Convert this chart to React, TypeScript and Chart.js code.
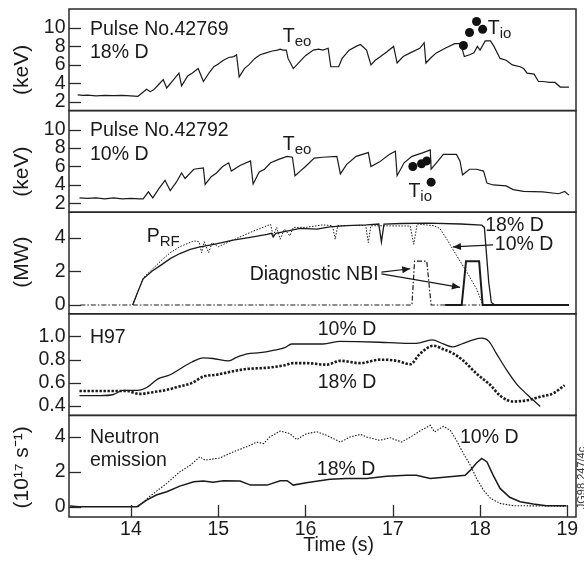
import React, { useEffect, useRef } from 'react';
import { Chart, registerables } from 'chart.js';

Chart.register(...registerables);

const FONT = '"Liberation Sans", Arial, Helvetica, sans-serif';
const INK = '#1a1a1a';

// ---- tick labels ----
const timeTicks = [14, 15, 16, 17, 18, 19];
const keVTicks = [2, 4, 6, 8, 10];
const mwTicks = [0, 2, 4];
const h97Ticks = [0.4, 0.6, 0.8, 1.0];
const neutronTicks = [0, 2, 4];

// ---- Panel 1: Pulse 42769 (18% D) Te0 ----
const teo18T = [13.39, 13.45, 13.5, 13.6, 13.7, 13.8, 13.9, 14.0, 14.08, 14.12, 14.18, 14.22, 14.26, 14.32, 14.37, 14.41, 14.47, 14.55, 14.58, 14.65, 14.7, 14.77, 14.83, 14.9, 14.95, 15.0, 15.06, 15.12, 15.18, 15.21, 15.24, 15.3, 15.35, 15.42, 15.48, 15.55, 15.62, 15.68, 15.71, 15.74, 15.78, 15.8, 15.86, 15.9, 15.94, 16.0, 16.09, 16.15, 16.2, 16.26, 16.29, 16.38, 16.42, 16.5, 16.58, 16.63, 16.7, 16.75, 16.8, 16.86, 16.93, 17.01, 17.05, 17.12, 17.2, 17.31, 17.36, 17.38, 17.44, 17.5, 17.6, 17.71, 17.78, 17.82, 17.88, 17.93, 17.97, 18.0, 18.06, 18.12, 18.16, 18.23, 18.3, 18.37, 18.46, 18.5, 18.54, 18.62, 18.67, 18.72, 18.8, 18.86, 18.92, 19.02];
const teo18V = [2.76, 2.7, 2.72, 2.65, 2.7, 2.68, 2.7, 2.65, 2.6, 2.9, 3.37, 3.1, 3.3, 3.9, 4.4, 3.5, 4.2, 5.1, 3.73, 4.8, 5.1, 5.6, 4.2, 5.2, 5.8, 6.1, 6.5, 6.8, 6.9, 7.1, 4.7, 5.6, 6.0, 6.7, 7.1, 7.3, 7.5, 7.6, 7.7, 7.6, 7.6, 6.7, 5.6, 6.0, 6.4, 7.0, 7.6, 7.7, 7.6, 7.8, 5.8, 5.8, 6.7, 7.6, 8.0, 8.2, 7.6, 6.0, 6.5, 6.9, 7.4, 8.0, 6.2, 6.9, 7.3, 7.8, 8.4, 6.2, 6.8, 7.3, 7.8, 8.3, 8.3, 6.9, 7.1, 7.3, 8.0, 7.6, 8.6, 8.6, 8.0, 6.7, 6.5, 6.0, 5.8, 5.6, 5.1, 5.0, 4.2, 4.2, 4.1, 4.1, 3.6, 3.6];
const tio18T = [17.81, 17.88, 17.96, 18.03];
const tio18V = [8.1, 9.5, 10.7, 9.85];

// ---- Panel 2: Pulse 42792 (10% D) Te0 ----
const teo10T = [13.41, 13.5, 13.6, 13.7, 13.8, 13.9, 14.0, 14.1, 14.14, 14.2, 14.25, 14.32, 14.39, 14.45, 14.52, 14.58, 14.62, 14.72, 14.83, 14.85, 14.92, 14.98, 15.05, 15.12, 15.15, 15.25, 15.37, 15.4, 15.47, 15.53, 15.6, 15.7, 15.79, 15.85, 15.88, 15.94, 16.0, 16.1, 16.2, 16.36, 16.4, 16.47, 16.58, 16.72, 16.75, 16.85, 16.96, 17.03, 17.05, 17.13, 17.22, 17.35, 17.43, 17.44, 17.51, 17.58, 17.73, 17.77, 17.8, 17.88, 17.96, 18.04, 18.08, 18.15, 18.3, 18.38, 18.5, 18.72, 18.9, 18.97, 19.02];
const teo10V = [2.6, 2.55, 2.6, 2.5, 2.6, 2.5, 2.55, 2.5, 2.5, 3.26, 2.6, 3.6, 4.5, 3.4, 4.3, 5.3, 4.7, 5.7, 5.85, 4.05, 4.9, 5.3, 6.0, 6.4, 5.5, 6.1, 6.6, 4.1, 5.4, 5.7, 6.4, 6.8, 7.1, 7.0, 5.0, 5.5, 6.0, 6.9, 7.0, 7.1, 5.2, 6.2, 7.1, 7.5, 6.0, 6.5, 7.3, 7.65, 5.0, 6.4, 7.1, 7.5, 7.8, 5.7, 6.5, 7.3, 7.3, 6.6, 5.1, 5.7, 5.7, 5.5, 4.2, 4.0, 3.9, 3.5, 3.3, 3.25, 3.05, 3.3, 2.9];
const tio10T = [17.23, 17.33, 17.39, 17.44];
const tio10V = [6.0, 6.3, 6.6, 4.3];

// ---- Panel 3: RF power and diagnostic NBI (MW) ----
const prf18T = [14.02, 14.08, 14.14, 14.24, 14.34, 14.45, 14.56, 14.68, 14.79, 14.95, 15.17, 15.35, 15.56, 15.61, 15.63, 15.66, 15.94, 16.13, 16.28, 16.47, 16.7, 16.84, 16.87, 16.9, 17.1, 17.4, 17.78, 18.02, 18.05, 18.07, 18.1, 18.13, 18.17, 19.02];
const prf18V = [0, 0.8, 1.55, 2.0, 2.35, 2.75, 3.05, 3.3, 3.45, 3.6, 3.84, 4.0, 4.18, 4.25, 4.03, 4.25, 4.54, 4.5, 4.63, 4.7, 4.75, 4.8, 3.74, 4.8, 4.83, 4.85, 4.8, 4.73, 4.6, 3.3, 1.35, 0.15, 0, 0];
const prf10T = [14.02, 14.08, 14.14, 14.24, 14.34, 14.45, 14.56, 14.72, 14.78, 14.81, 14.84, 14.89, 14.93, 15.0, 15.17, 15.38, 15.6, 15.63, 15.67, 15.71, 15.76, 15.82, 15.86, 16.0, 16.2, 16.31, 16.34, 16.37, 16.69, 16.72, 16.75, 17.2, 17.24, 17.28, 17.47, 17.54, 17.62, 17.73, 17.85, 17.96, 18.03, 18.05];
const prf10V = [0, 0.8, 1.6, 2.1, 2.6, 3.1, 3.45, 3.8, 3.75, 3.1, 3.75, 3.1, 3.7, 3.45, 3.85, 4.33, 4.78, 4.1, 4.6, 3.9, 4.5, 4.1, 4.6, 4.6, 4.75, 4.7, 3.9, 4.7, 4.72, 3.7, 4.7, 4.68, 3.6, 4.8, 4.7, 4.54, 3.9, 2.95, 1.95, 0.96, 0.05, 0];
const nbi10T = [13.42, 17.22, 17.25, 17.39, 17.44, 19.02];
const nbi10V = [0, 0, 2.6, 2.6, 0, 0];
const nbi18T = [17.6, 17.79, 17.84, 17.99, 18.03, 19.02];
const nbi18V = [0, 0, 2.6, 2.6, 0, 0];

// ---- Panel 4: H97 ----
const h97_10T = [13.41, 13.65, 13.8, 13.91, 14.08, 14.18, 14.31, 14.45, 14.56, 14.7, 14.83, 14.94, 15.12, 15.21, 15.33, 15.48, 15.63, 15.77, 15.84, 16.01, 16.2, 16.4, 16.59, 16.85, 17.08, 17.27, 17.45, 17.58, 17.69, 17.79, 17.92, 18.02, 18.1, 18.19, 18.31, 18.42, 18.54, 18.69];
const h97_10V = [0.49, 0.49, 0.5, 0.535, 0.535, 0.56, 0.635, 0.67, 0.72, 0.78, 0.815, 0.81, 0.79, 0.82, 0.85, 0.86, 0.88, 0.905, 0.935, 0.935, 0.935, 0.957, 0.955, 0.95, 0.943, 0.94, 0.97, 0.935, 0.91, 0.935, 0.97, 0.985, 0.96, 0.85, 0.705, 0.59, 0.5, 0.397];
const h97_18T = [13.41, 13.8, 13.95, 14.1, 14.25, 14.41, 14.56, 14.7, 14.83, 14.98, 15.17, 15.33, 15.56, 15.75, 15.86, 16.01, 16.24, 16.4, 16.63, 16.85, 17.05, 17.2, 17.31, 17.47, 17.58, 17.69, 17.81, 17.96, 18.12, 18.23, 18.38, 18.54, 18.69, 18.84, 18.97];
const h97_18V = [0.53, 0.53, 0.53, 0.505, 0.52, 0.54, 0.57, 0.6, 0.655, 0.67, 0.7, 0.72, 0.73, 0.75, 0.77, 0.77, 0.757, 0.79, 0.77, 0.8, 0.79, 0.76, 0.85, 0.92, 0.89, 0.855, 0.79, 0.68, 0.58, 0.49, 0.44, 0.45, 0.48, 0.51, 0.58];

// ---- Panel 5: neutron emission (1e17 /s) ----
const neu18T = [13.3, 13.4, 14.07, 14.18, 14.29, 14.41, 14.56, 14.72, 14.83, 14.94, 15.06, 15.25, 15.37, 15.56, 15.71, 15.79, 15.86, 16.01, 16.28, 16.47, 16.7, 16.93, 17.16, 17.27, 17.43, 17.62, 17.83, 17.89, 17.96, 18.02, 18.08, 18.15, 18.23, 18.34, 18.46, 18.61, 18.76, 18.99];
const neu18V = [0.04, 0, 0, 0.38, 0.67, 0.86, 1.18, 1.43, 1.47, 1.4, 1.49, 1.47, 1.24, 1.24, 1.49, 1.49, 1.24, 1.37, 1.57, 1.62, 1.62, 1.75, 1.81, 1.81, 1.62, 1.71, 1.81, 2.1, 2.51, 2.77, 2.57, 1.81, 1.05, 0.54, 0.29, 0.15, 0.06, 0.06];
const neu10T = [14.08, 14.21, 14.41, 14.56, 14.68, 14.79, 14.85, 15.02, 15.17, 15.37, 15.44, 15.52, 15.59, 15.71, 15.82, 15.9, 16.01, 16.13, 16.24, 16.4, 16.51, 16.63, 16.7, 16.85, 16.97, 17.1, 17.22, 17.31, 17.43, 17.48, 17.58, 17.66, 17.73, 17.81, 17.89, 17.96, 18.04, 18.12, 18.23, 18.38, 18.99];
const neu10V = [0, 0.57, 1.34, 2.0, 2.38, 2.86, 2.67, 2.8, 3.14, 3.53, 3.71, 3.62, 4.0, 4.34, 4.2, 3.85, 4.19, 4.3, 4.1, 3.71, 4.0, 4.15, 4.0, 3.81, 3.96, 3.71, 4.05, 4.34, 4.67, 4.29, 4.61, 4.38, 3.81, 3.05, 2.38, 1.62, 0.95, 0.48, 0.19, 0.06, 0.03];

// ---- annotations (data coordinates of each panel) ----
const textLabels = [
  { axis: 'te1', x: 13.53, y: 10.0, text: 'Pulse No.42769' },
  { axis: 'te1', x: 13.53, y: 7.45, text: '18% D' },
  { axis: 'te1', x: 15.74, y: 9.24, text: 'T', sub: 'eo' },
  { axis: 'te1', x: 18.09, y: 10.05, text: 'T', sub: 'io' },
  { axis: 'te2', x: 13.53, y: 10.05, text: 'Pulse No.42792' },
  { axis: 'te2', x: 13.53, y: 7.45, text: '10% D' },
  { axis: 'te2', x: 15.74, y: 8.53, text: 'T', sub: 'eo' },
  { axis: 'te2', x: 17.18, y: 3.5, text: 'T', sub: 'io' },
  { axis: 'mw', x: 14.18, y: 4.14, text: 'P', sub: 'RF' },
  { axis: 'mw', x: 15.36, y: 1.87, text: 'Diagnostic NBI' },
  { axis: 'mw', x: 18.06, y: 4.8, text: '18% D' },
  { axis: 'mw', x: 18.17, y: 3.66, text: '10% D' },
  { axis: 'h97', x: 13.53, y: 1.006, text: 'H97' },
  { axis: 'h97', x: 16.14, y: 1.075, text: '10% D' },
  { axis: 'h97', x: 16.14, y: 0.62, text: '18% D' },
  { axis: 'neu', x: 13.53, y: 4.04, text: 'Neutron' },
  { axis: 'neu', x: 13.53, y: 2.73, text: 'emission' },
  { axis: 'neu', x: 17.77, y: 4.04, text: '10% D' },
  { axis: 'neu', x: 16.13, y: 2.21, text: '18% D' },
];
const arrowLines = [
  { axis: 'mw', x1: 16.87, y1: 1.95, x2: 17.2, y2: 2.15 },
  { axis: 'mw', x1: 16.87, y1: 1.85, x2: 17.77, y2: 1.05 },
  { axis: 'mw', x1: 18.15, y1: 3.56, x2: 17.69, y2: 3.44 },
];
const axisTitles = [
  { axis: 'te1', y: 5.45, text: '(keV)' },
  { axis: 'te2', y: 5.45, text: '(keV)' },
  { axis: 'mw', y: 2.54, text: '(MW)' },
  { axis: 'neu', y: 2.26, text: '(10¹⁷ s⁻¹)' },
];
const xTitle = { x: 16.38, text: 'Time (s)' };
const panelIds = ['te1', 'te2', 'mw', 'h97', 'neu'];

const zip = (t: number[], v: number[]) => t.map((x, i) => ({ x, y: v[i] }));

const yScale = (ticksArr: number[], min: number, max: number, weight: number, decimals: number) => ({
  type: 'linear',
  position: 'left',
  stack: 'panels',
  stackWeight: 1,
  weight,
  min,
  max,
  grid: { display: false, drawTicks: false },
  border: { display: false },
  ticks: {
    padding: 3.5,
    autoSkip: false,
    color: INK,
    font: { family: FONT, size: 19.5 },
    callback: (v: any) => (decimals ? Number(v).toFixed(decimals) : String(v)),
  },
  afterBuildTicks: (s: any) => {
    s.ticks = ticksArr.map((value) => ({ value }));
  },
  afterFit: (s: any) => {
    s.width = 69;
    s.paddingTop = 0;
    s.paddingBottom = 0;
  },
});

const lineDs = (label: string, data: any[], axis: string, extra: any = {}) => ({
  label,
  data,
  yAxisID: axis,
  xAxisID: 'x',
  borderColor: INK,
  borderWidth: 1.2,
  pointRadius: 0,
  tension: 0,
  fill: false,
  ...extra,
});

const dotDs = (label: string, data: any[], axis: string) => ({
  label,
  data,
  yAxisID: axis,
  xAxisID: 'x',
  showLine: false,
  pointRadius: 4.5,
  pointBackgroundColor: '#111',
  pointBorderWidth: 0,
  borderColor: '#111',
});

const annotationPlugin = {
  id: 'panelDecor',
  afterDatasetsDraw(chart: any) {
    const ctx = chart.ctx;
    const ca = chart.chartArea;
    const xs = chart.scales.x;
    ctx.save();
    // panel frames
    ctx.strokeStyle = '#2b2b2b';
    ctx.lineWidth = 1.5;
    panelIds.forEach((id) => {
      const s = chart.scales[id];
      ctx.strokeRect(ca.left, s.top, ca.right - ca.left, s.bottom - s.top);
    });
    // inward tick marks on y axes
    ctx.lineWidth = 1.3;
    panelIds.forEach((id) => {
      const s = chart.scales[id];
      s.ticks.forEach((tk: any) => {
        const y = Math.round(s.getPixelForValue(tk.value)) + 0.5;
        ctx.beginPath();
        ctx.moveTo(ca.left, y);
        ctx.lineTo(ca.left + 12, y);
        ctx.stroke();
      });
    });
    // inward tick marks on the time axis (bottom panel)
    xs.ticks.forEach((tk: any) => {
      const x = Math.round(xs.getPixelForValue(tk.value)) + 0.5;
      ctx.beginPath();
      ctx.moveTo(x, ca.bottom);
      ctx.lineTo(x, ca.bottom - 12);
      ctx.stroke();
    });
    // text labels
    ctx.fillStyle = INK;
    ctx.textAlign = 'left';
    ctx.textBaseline = 'alphabetic';
    textLabels.forEach((l: any) => {
      const s = chart.scales[l.axis];
      const px = xs.getPixelForValue(l.x);
      const py = s.getPixelForValue(l.y);
      ctx.font = `19.5px ${FONT}`;
      ctx.fillText(l.text, px, py + 7);
      if (l.sub) {
        const w = ctx.measureText(l.text).width;
        ctx.font = `15px ${FONT}`;
        ctx.fillText(l.sub, px + w, py + 11);
      }
    });
    // arrows
    ctx.strokeStyle = INK;
    ctx.lineWidth = 1.2;
    arrowLines.forEach((a: any) => {
      const s = chart.scales[a.axis];
      const x1 = xs.getPixelForValue(a.x1);
      const y1 = s.getPixelForValue(a.y1);
      const x2 = xs.getPixelForValue(a.x2);
      const y2 = s.getPixelForValue(a.y2);
      ctx.beginPath();
      ctx.moveTo(x1, y1);
      ctx.lineTo(x2, y2);
      ctx.stroke();
      const ang = Math.atan2(y2 - y1, x2 - x1);
      const L = 8;
      const W = 3.5;
      ctx.beginPath();
      ctx.moveTo(x2, y2);
      ctx.lineTo(x2 - L * Math.cos(ang) + W * Math.sin(ang), y2 - L * Math.sin(ang) - W * Math.cos(ang));
      ctx.lineTo(x2 - L * Math.cos(ang) - W * Math.sin(ang), y2 - L * Math.sin(ang) + W * Math.cos(ang));
      ctx.closePath();
      ctx.fill();
    });
    // y axis titles
    ctx.font = `21px ${FONT}`;
    ctx.textAlign = 'center';
    ctx.textBaseline = 'middle';
    axisTitles.forEach((t: any) => {
      const s = chart.scales[t.axis];
      const py = s.getPixelForValue(t.y);
      ctx.save();
      ctx.translate(22, py);
      ctx.rotate(-Math.PI / 2);
      ctx.fillText(t.text, 0, 0);
      ctx.restore();
    });
    // x axis title
    ctx.font = `19.5px ${FONT}`;
    ctx.fillText(xTitle.text, xs.getPixelForValue(xTitle.x), ca.bottom + 29);
    // figure code at right edge
    ctx.save();
    ctx.font = `11px ${FONT}`;
    ctx.fillStyle = '#333';
    ctx.translate(582, 478);
    ctx.rotate(-Math.PI / 2);
    ctx.fillText('JG98.247/4c', 0, 0);
    ctx.restore();
    ctx.restore();
  },
};

export default function App() {
  const ref = useRef<HTMLCanvasElement>(null);
  useEffect(() => {
    const canvas = ref.current;
    if (!canvas) return;
    const chart = new Chart(canvas, {
      type: 'line',
      data: {
        datasets: [
          lineDs('Te0 18% D', zip(teo18T, teo18V), 'te1'),
          dotDs('Ti0 18% D', zip(tio18T, tio18V), 'te1'),
          lineDs('Te0 10% D', zip(teo10T, teo10V), 'te2'),
          dotDs('Ti0 10% D', zip(tio10T, tio10V), 'te2'),
          lineDs('NBI 10% D', zip(nbi10T, nbi10V), 'mw', { borderDash: [5, 2, 1.5, 2], borderWidth: 1.2 }),
          lineDs('NBI 18% D', zip(nbi18T, nbi18V), 'mw', { borderWidth: 2 }),
          lineDs('PRF 10% D', zip(prf10T, prf10V), 'mw', { borderDash: [1.5, 1.5], borderWidth: 1 }),
          lineDs('PRF 18% D', zip(prf18T, prf18V), 'mw', { borderWidth: 1.3 }),
          lineDs('H97 10% D', zip(h97_10T, h97_10V), 'h97', { borderWidth: 1.3, cubicInterpolationMode: 'monotone' }),
          lineDs('H97 18% D', zip(h97_18T, h97_18V), 'h97', { borderWidth: 2.6, borderDash: [2.4, 1.6], cubicInterpolationMode: 'monotone' }),
          lineDs('Neutron 10% D', zip(neu10T, neu10V), 'neu', { borderDash: [1.5, 1.5], borderWidth: 1.1 }),
          lineDs('Neutron 18% D', zip(neu18T, neu18V), 'neu', { borderWidth: 1.5 }),
        ],
      },
      options: {
        animation: false,
        responsive: false,
        devicePixelRatio: 1,
        layout: { padding: { top: 9, right: 8, left: 0, bottom: 0 } },
        plugins: { legend: { display: false }, tooltip: { enabled: false }, title: { display: false } },
        scales: {
          x: {
            type: 'linear',
            position: 'bottom',
            min: 13.29,
            max: 19.1,
            grid: { display: false, drawTicks: false },
            border: { display: false },
            ticks: { padding: 1, color: INK, font: { family: FONT, size: 19.5 }, maxRotation: 0, autoSkip: false },
            afterBuildTicks: (s: any) => {
              s.ticks = timeTicks.map((value) => ({ value }));
            },
            afterFit: (s: any) => {
              s.height = 47;
              s.paddingLeft = 0;
              s.paddingRight = 0;
            },
          },
          neu: yScale(neutronTicks, -0.59, 5.24, 1, 0),
          h97: yScale(h97Ticks, 0.32, 1.195, 2, 1),
          mw: yScale(mwTicks, -0.52, 5.5, 3, 0),
          te2: yScale(keVTicks, 1.05, 12.05, 4, 0),
          te1: yScale(keVTicks, 1.05, 12.05, 5, 0),
        },
      } as any,
      plugins: [annotationPlugin],
    } as any);
    return () => chart.destroy();
  }, []);
  return (
    <div style={{ position: 'absolute', left: 0, top: 0, width: 584, height: 564, background: '#fff' }}>
      <canvas ref={ref} width={584} height={564} style={{ display: 'block', width: 584, height: 564 }} />
    </div>
  );
}
